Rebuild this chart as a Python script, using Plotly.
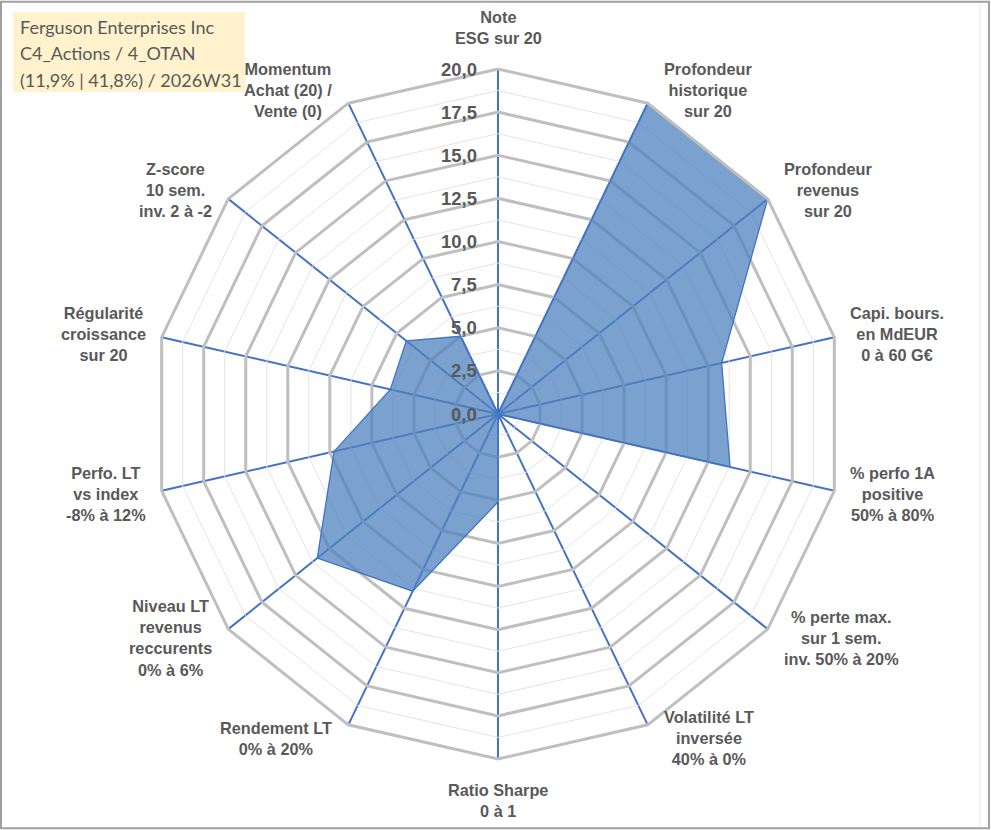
import math

import plotly.graph_objects as go

# axes of the radar, clockwise from the top
categories = [
    "Note<br>ESG sur 20",
    "Profondeur<br>historique<br>sur 20",
    "Profondeur<br>revenus<br>sur 20",
    "Capi. bours.<br>en MdEUR<br>0 à 60 G€",
    "% perfo 1A<br>positive<br>50% à 80%",
    "% perte max.<br>sur 1 sem.<br>inv. 50% à 20%",
    "Volatilité LT<br>inversée<br>40% à 0%",
    "Ratio Sharpe<br>0 à 1",
    "Rendement LT<br>0% à 20%",
    "Niveau LT<br>revenus<br>reccurents<br>0% à 6%",
    "Perfo. LT<br>vs index<br>-8% à 12%",
    "Régularité<br>croissance<br>sur 20",
    "Z-score<br>10 sem.<br>inv. 2 à -2",
    "Momentum<br>Achat (20) /<br>Vente (0)",
]
scores = [0, 20, 20, 13.3, 13.8, 0, 0, 5.1, 11.4, 13.4, 9.75, 6.4, 6.8, 5.0]

ring_levels = [0, 2.5, 5, 7.5, 10, 12.5, 15, 17.5, 20]
minor_rings = [1.25, 3.75, 6.25, 8.75, 11.25, 13.75, 16.25, 18.75]

title_lines = [
    "Ferguson Enterprises Inc",
    "C4_Actions / 4_OTAN",
    "(11,9% | 41,8%) / 2026W31",
]

GREY_TXT = "#595959"
W, H = 991, 830
CX, CY, R = 498, 414, 345  # polar centre / radius in px


def px(x, y):
    return x / W, 1 - y / H


fig = go.Figure()

# faint intermediate rings
for r in minor_rings:
    fig.add_trace(
        go.Scatterpolar(
            r=[r] * (len(categories) + 1),
            theta=categories + [categories[0]],
            mode="lines",
            line=dict(color="#E4E4E4", width=1),
            hoverinfo="skip",
            showlegend=False,
        )
    )

fig.add_trace(
    go.Scatterpolar(
        r=scores + [scores[0]],
        theta=categories + [categories[0]],
        mode="lines",
        fill="toself",
        fillcolor="rgba(79,129,189,0.75)",
        line=dict(color="#4472C4", width=1.3),
        showlegend=False,
    )
)

fig.update_layout(
    width=W,
    height=H,
    margin=dict(l=0, r=0, t=0, b=0),
    paper_bgcolor="white",
    font=dict(family="Liberation Sans", color=GREY_TXT),
    polar=dict(
        domain=dict(
            x=[(CX - R) / W, (CX + R) / W],
            y=[(H - CY - R) / H, (H - CY + R) / H],
        ),
        bgcolor="white",
        gridshape="linear",
        radialaxis=dict(
            range=[0, 20],
            tickvals=ring_levels,
            angle=90,
            showline=False,
            showticklabels=False,
            gridcolor="#BFBFBF",
            gridwidth=3,
            ticks="",
        ),
        angularaxis=dict(
            direction="clockwise",
            rotation=90,
            gridcolor="#4472C4",
            gridwidth=1.6,
            linecolor="#BFBFBF",
            linewidth=3,
            showticklabels=False,
            ticks="",
        ),
    ),
)

# radial scale labels, left of the top spoke
for v in ring_levels:
    xp, yp = px(CX - 19, CY - R * v / 20)
    fig.add_annotation(
        text=f"{v:.1f}".replace(".", ","),
        x=xp,
        y=yp,
        xref="paper",
        yref="paper",
        xanchor="right",
        yanchor="middle",
        showarrow=False,
        font=dict(size=18.5, family="Liberation Sans", weight="bold", color=GREY_TXT),
    )

# category labels, centred text like the spreadsheet chart
n = len(categories)
for i, lab in enumerate(categories):
    a = 2 * math.pi * i / n
    s, c = math.sin(a), math.cos(a)
    vx, vy = CX + R * s, CY - R * c
    if abs(s) < 0.1:
        x, y = vx, vy - 20 * c
        xa, ya = "center", "bottom" if c > 0 else "top"
    else:
        x = vx + (14 if s > 0 else -14)
        y = vy - 15 * c
        xa, ya = ("left" if s > 0 else "right"), "middle"
    xp, yp = px(x, y)
    fig.add_annotation(
        text=lab,
        x=xp,
        y=yp,
        xref="paper",
        yref="paper",
        xanchor=xa,
        yanchor=ya,
        align="center",
        showarrow=False,
        font=dict(size=16.3, family="Liberation Sans", weight="bold", color=GREY_TXT),
    )

# title box
x0, y0 = px(13, 12)
x1, y1 = px(245, 92)
fig.add_shape(
    type="rect", xref="paper", yref="paper",
    x0=x0, y0=y0, x1=x1, y1=y1,
    fillcolor="#FFF2CC", line=dict(width=0), layer="below",
)
for k, line in enumerate(title_lines):
    xp, yp = px(18, 27 + 26.3 * k)
    fig.add_annotation(
        text=line,
        x=xp,
        y=yp,
        xref="paper",
        yref="paper",
        xanchor="left",
        yanchor="middle",
        showarrow=False,
        font=dict(size=18, family="Lato", color=GREY_TXT),
    )

# chart frame
fig.add_shape(
    type="rect", xref="paper", yref="paper",
    x0=0.001, y0=0.002, x1=0.998, y1=0.998,
    line=dict(color="#A0A0A0", width=2),
)
fig.add_shape(
    type="line", xref="paper", yref="paper",
    x0=980 / W, y0=0.005, x1=980 / W, y1=0.995,
    line=dict(color="#E6E6E6", width=1),
)

fig.write_html(
    "out.html",
    config={"displayModeBar": False},
    post_script="document.body.style.margin='0';",
)
